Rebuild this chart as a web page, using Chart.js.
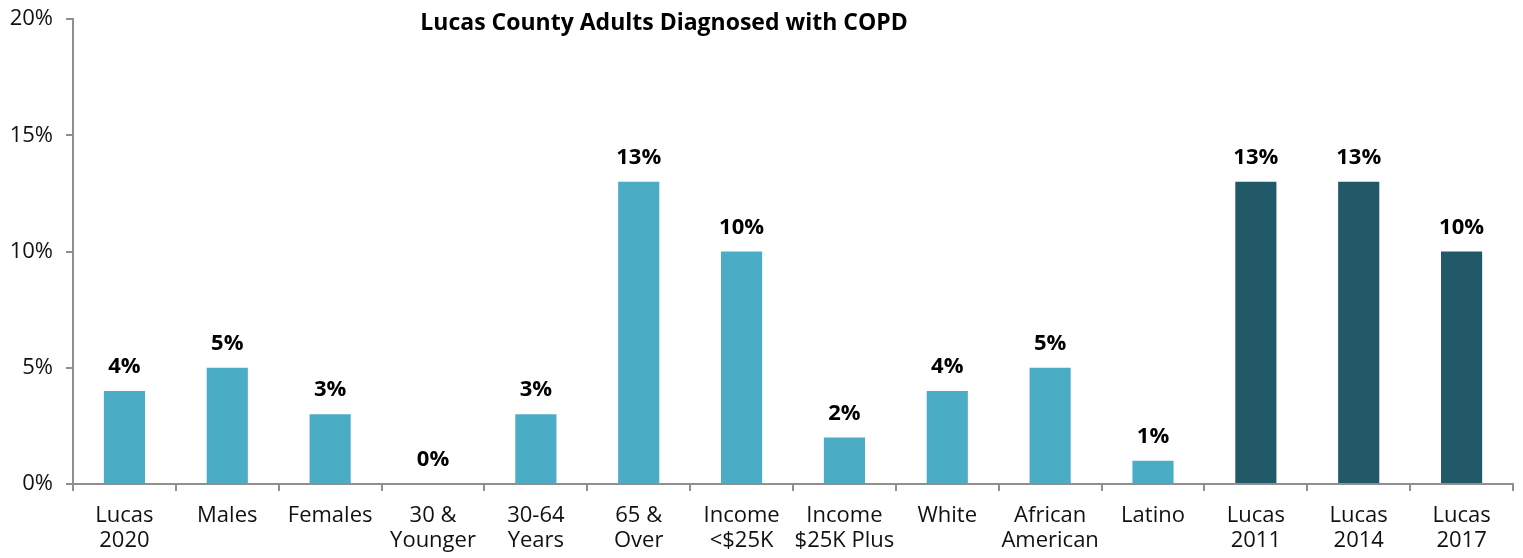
<!DOCTYPE html>
<html>
<head>
<meta charset="utf-8">
<script src="https://cdn.jsdelivr.net/npm/chart.js@4/dist/chart.umd.min.js"></script>
<style>
  html, body { margin: 0; padding: 0; background: #fff; }
  #wrap { width: 1523px; height: 558px; position: relative; }
</style>
</head>
<body>
<div id="wrap"><canvas id="c" width="1523" height="558"></canvas></div>
<script>
const chartTitle = 'Lucas County Adults Diagnosed with COPD';
const categories = [
  ['Lucas', '2020'], 'Males', 'Females', ['30 &', 'Younger'], ['30-64', 'Years'],
  ['65 &', 'Over'], ['Income', '<$25K'], ['Income', '$25K Plus'], 'White',
  ['African', 'American'], 'Latino', ['Lucas', '2011'], ['Lucas', '2014'], ['Lucas', '2017']
];
const values = [4, 5, 3, 0, 3, 13, 10, 2, 4, 5, 1, 13, 13, 10];
const isTrend = [false, false, false, false, false, false, false, false, false, false, false, true, true, true];
const yTicks = [0, 5, 10, 15, 20];

const LIGHT = '#4BACC6';
const DARK = '#215968';
const AXIS = '#8f8f8f';
const FONT = '"Open Sans", "Noto Sans", sans-serif';

const valueLabels = {
  id: 'valueLabels',
  afterDatasetsDraw(chart) {
    const ctx = chart.ctx;
    const meta = chart.getDatasetMeta(0);
    ctx.save();
    ctx.font = 'bold 22px ' + FONT;
    ctx.fillStyle = '#000';
    ctx.textAlign = 'center';
    ctx.textBaseline = 'alphabetic';
    meta.data.forEach((bar, i) => {
      ctx.fillText(values[i] + '%', bar.x, bar.y - 18);
    });
    ctx.restore();
  }
};

const titlePlugin = {
  id: 'titlePlugin',
  afterDraw(chart) {
    const ctx = chart.ctx;
    ctx.save();
    ctx.font = 'bold 23px ' + FONT;
    ctx.fillStyle = '#000';
    ctx.textAlign = 'center';
    ctx.textBaseline = 'middle';
    ctx.fillText(chartTitle, 664, 23);
    ctx.restore();
  }
};

new Chart(document.getElementById('c'), {
  type: 'bar',
  data: {
    labels: categories,
    datasets: [{
      data: values,
      backgroundColor: isTrend.map(t => t ? DARK : LIGHT),
      borderWidth: 0,
      barPercentage: 0.8,
      categoryPercentage: 0.5
    }]
  },
  options: {
    responsive: false,
    animation: false,
    events: [],
    layout: { padding: { top: 19, right: 10, left: 0, bottom: 0 } },
    plugins: { legend: { display: false }, tooltip: { enabled: false }, title: { display: false } },
    scales: {
      x: {
        grid: { offset: true, drawOnChartArea: false, color: AXIS, lineWidth: 2, tickLength: 7 },
        border: { color: AXIS, width: 2 },
        ticks: { color: '#111', font: { family: FONT, size: 22, lineHeight: 1.15 }, padding: 12, maxRotation: 0, autoSkip: false },
        afterFit(s) { s.height = 74; s.paddingLeft = 0; s.paddingRight = 0; }
      },
      y: {
        min: 0, max: 20,
        afterBuildTicks(s) { s.ticks = yTicks.map(v => ({ value: v })); },
        grid: { drawOnChartArea: false, color: AXIS, lineWidth: 2, tickLength: 7 },
        border: { color: AXIS, width: 2 },
        ticks: { color: '#111', font: { family: FONT, size: 22 }, padding: 13, callback: v => v + '%' },
        afterFit(s) { s.width = 73; s.paddingTop = 0; s.paddingBottom = 0; }
      }
    }
  },
  plugins: [valueLabels, titlePlugin]
});
</script>
</body>
</html>
